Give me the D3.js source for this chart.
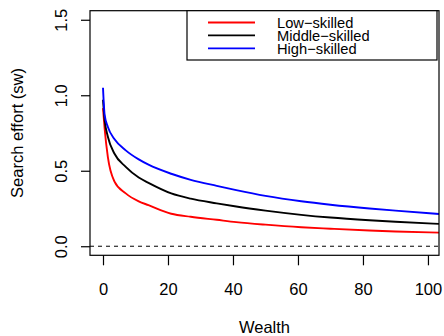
<!DOCTYPE html>
<html>
<head>
<meta charset="utf-8">
<script src="https://cdn.jsdelivr.net/npm/d3@7"></script>
<style>
  body { margin: 0; background: #fff; }
  text { font-family: "Liberation Sans", Arial, sans-serif; fill: #000; }
</style>
</head>
<body>
<div class="chart"></div>
<script>
(function() {
    var width = 444, height = 336;

    // values
    var wealth = [0, 0.5, 1.5, 3.5, 7, 11, 14, 21, 27, 35, 41, 50, 61, 70, 82, 90, 103.4];
    var lowSkilled = [0.915, 0.78, 0.59, 0.43, 0.35, 0.297, 0.272, 0.215, 0.195, 0.175, 0.16, 0.143, 0.126, 0.116, 0.104, 0.098, 0.09];
    var middleSkilled = [0.97, 0.837, 0.725, 0.614, 0.526, 0.455, 0.42, 0.35, 0.315, 0.284, 0.263, 0.236, 0.208, 0.19, 0.172, 0.162, 0.148];
    var highSkilled = [1.05, 0.87, 0.79, 0.71, 0.635, 0.575, 0.54, 0.48, 0.44, 0.40, 0.372, 0.334, 0.298, 0.275, 0.25, 0.236, 0.214];
    var xTicks = [0, 20, 40, 60, 80, 100];
    var yTicks = [0, 0.5, 1.0, 1.5];
    var seriesNames = ["Low\u2212skilled", "Middle\u2212skilled", "High\u2212skilled"];
    var seriesColors = ["#ff0000", "#000000", "#0000ff"];

    var left = 90, right = 439, top = 10.7, bottom = 255.3;

    var svg = d3.select(".chart")
                .append("svg")
                .attr("width", width)
                .attr("height", height);

    var x = d3.scaleLinear().domain([-4, 103.4]).range([left, right]);
    var y = d3.scaleLinear().domain([-0.06, 1.56]).range([bottom, top]);

    // dashed zero line
    svg.append("line")
        .attr("x1", left).attr("x2", right)
        .attr("y1", y(0)).attr("y2", y(0))
        .attr("stroke", "#000")
        .attr("stroke-width", 1)
        .attr("stroke-dasharray", "4,4");

    var line = d3.line()
        .x(function(d) { return x(d[0]) })
        .y(function(d) { return y(d[1]) })
        .curve(d3.curveMonotoneX);

    var allSeries = [lowSkilled, middleSkilled, highSkilled];
    allSeries.forEach(function(vals, i) {
        svg.append("path")
            .datum(wealth.map(function(w, j) { return [w, vals[j]] }))
            .attr("d", line)
            .attr("fill", "none")
            .attr("stroke", seriesColors[i])
            .attr("stroke-width", 1.9);
    });

    // axes, R style
    var xAxis = d3.axisBottom(x).tickValues(xTicks).tickSize(10)
        .tickFormat(d3.format("d"));
    var gx = svg.append("g")
        .attr("transform", "translate(0," + bottom + ")")
        .call(xAxis);
    gx.select(".domain").remove();
    gx.selectAll("line").attr("stroke", "#000").attr("stroke-width", 1.2);
    gx.selectAll("text").attr("font-size", "16.5px").attr("dy", "0.71em")
        .attr("y", 27.5)
        .attr("font-family", "Liberation Sans, Arial, sans-serif");

    var yAxis = d3.axisLeft(y).tickValues(yTicks).tickSize(9)
        .tickFormat(d3.format(".1f"));
    var gy = svg.append("g")
        .attr("transform", "translate(" + left + ",0)")
        .call(yAxis);
    gy.select(".domain").remove();
    gy.selectAll("line").attr("stroke", "#000").attr("stroke-width", 1.2);
    gy.selectAll("text")
        .attr("font-size", "16.5px")
        .attr("font-family", "Liberation Sans, Arial, sans-serif")
        .attr("x", null).attr("dy", null)
        .attr("text-anchor", "middle")
        .attr("transform", "translate(-23.5,0) rotate(-90)");

    // plot box
    svg.append("rect")
        .attr("x", left).attr("y", top)
        .attr("width", right - left).attr("height", bottom - top)
        .attr("fill", "none")
        .attr("stroke", "#000")
        .attr("stroke-width", 1.2);

    // axis titles
    svg.append("text")
        .attr("x", (left + right) / 2)
        .attr("y", 333)
        .attr("text-anchor", "middle")
        .attr("font-size", "16.5px")
        .text("Wealth");

    svg.append("text")
        .attr("transform", "translate(23," + ((top + bottom) / 2) + ") rotate(-90)")
        .attr("text-anchor", "middle")
        .attr("font-size", "16.5px")
        .text("Search effort (sw)");

    // legend
    var legend = svg.append("g");
    legend.append("rect")
        .attr("x", 187).attr("y", top)
        .attr("width", 437 - 187).attr("height", 60 - top)
        .attr("fill", "#fff")
        .attr("stroke", "#000")
        .attr("stroke-width", 1.2);

    var rows = legend.selectAll(".row")
        .data(seriesNames)
        .enter().append("g")
        .attr("class", "row")
        .attr("transform", function(d, i) { return "translate(0," + (22.5 + i * 12.9) + ")" });

    rows.append("line")
        .attr("x1", 208).attr("x2", 255)
        .attr("y1", 0).attr("y2", 0)
        .attr("stroke", function(d, i) { return seriesColors[i] })
        .attr("stroke-width", 1.8);

    rows.append("text")
        .attr("x", 277)
        .attr("dy", "0.36em")
        .attr("font-size", "14.7px")
        .text(function(d) { return d });
})();
</script>
</body>
</html>
